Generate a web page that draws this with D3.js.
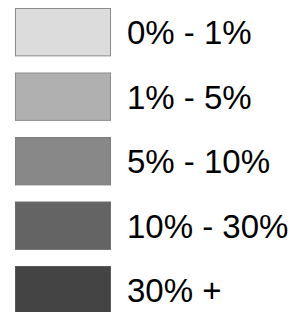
<!DOCTYPE html>
<html>
<head>
<meta charset="utf-8">
<script src="https://cdn.jsdelivr.net/npm/d3@7"></script>
<style>
  html, body { margin: 0; padding: 0; background: #fff; }
  svg { display: block; }
</style>
</head>
<body>
<div id="legend"></div>
<script>
/* Grey-scale class legend: five swatches with percentage bands. */
var labels = ["0% - 1%", "1% - 5%", "5% - 10%", "10% - 30%", "30% +"];
var fills = ["#dcdcdc", "#b0b0b0", "#888888", "#646464", "#444444"];
var strokes = ["#8c8c8c", "#8c8c8c", "#7c7c7c", "#6e6e6e", "#5a5a5a"];

(function () {
  var W = 297, H = 312;
  var svg = d3.select("#legend").append("svg")
    .attr("width", W).attr("height", H);

  // step 64.5, swatch ~48 tall, first swatch top at y = 8
  var pad = 0.25;
  var y = d3.scaleBand().domain(d3.range(labels.length))
    .range([8, 8 + 64.5 * (labels.length - pad)])
    .paddingInner(pad).paddingOuter(0);

  var rows = svg.selectAll("g").data(labels).join("g")
    .attr("transform", function (d, i) { return "translate(0," + y(i) + ")"; });

  rows.append("rect")
    .attr("x", 15.5).attr("y", 0.5)
    .attr("width", 95).attr("height", y.bandwidth() - 1)
    .attr("fill", function (d, i) { return fills[i]; })
    .attr("stroke", function (d, i) { return strokes[i]; })
    .attr("stroke-width", 1);

  rows.append("text")
    .attr("x", 127).attr("y", y.bandwidth() / 2 + 12)
    .attr("font-family", "Liberation Sans, Arial, sans-serif")
    .attr("font-size", "33px").attr("fill", "#000")
    .text(function (d) { return d; });
})();
</script>
</body>
</html>
